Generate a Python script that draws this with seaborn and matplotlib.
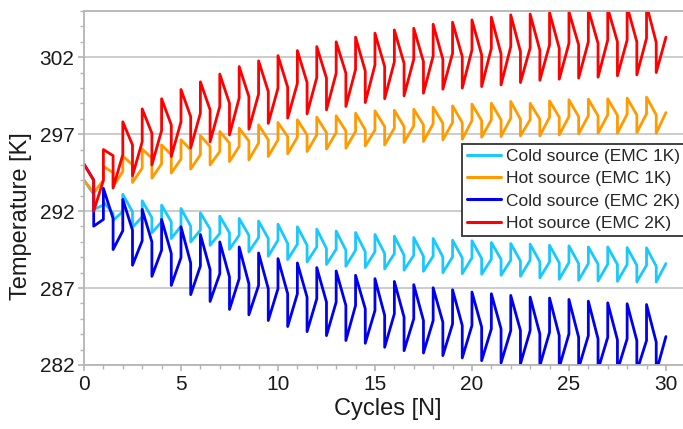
import matplotlib
matplotlib.use("Agg")
import matplotlib.pyplot as plt
import seaborn as sns
import pandas as pd
from matplotlib.ticker import MultipleLocator

# ---- data ----
# Each cycle n: value just before the jump at x=n (pre), just after it (post),
# value just before the jump at x=n+0.5 (mid) and just after it (low).
labels = ["Cold source (EMC 1K)", "Hot source (EMC 1K)",
          "Cold source (EMC 2K)", "Hot source (EMC 2K)"]
colors = ["#19c8ff", "#ff9a00", "#0000f0", "#ff0000"]

cold1_pre = [294.0, 292.4, 291.96, 291.63, 291.3, 291.02, 290.76, 290.55, 290.43, 290.28,
             290.11, 289.85, 289.67, 289.52, 289.46, 289.35, 289.24, 289.13, 289.07, 289.02,
             288.96, 288.87, 288.81, 288.81, 288.7, 288.66, 288.59, 288.55, 288.53, 288.48, 288.59]
cold1_post = [294.0, 292.6, 293.09, 292.67, 292.39, 292.17, 291.89, 291.67, 291.52, 291.35,
              291.15, 290.98, 290.83, 290.7, 290.61, 290.48, 290.37, 290.28, 290.22, 290.11,
              290.07, 289.96, 289.89, 289.85, 289.78, 289.74, 289.67, 289.67, 289.63, 289.61]
cold1_mid = [293.1, 291.85, 291.96, 291.57, 291.3, 291.02, 290.83, 290.59, 290.43, 290.22,
             289.89, 289.78, 289.57, 289.46, 289.35, 289.24, 289.13, 289.07, 289.02, 288.96,
             288.92, 288.87, 288.76, 288.7, 288.64, 288.59, 288.55, 288.53, 288.48, 288.42]
cold1_low = [292.1, 291.4, 290.94, 290.59, 290.22, 290.0, 289.78, 289.52, 289.35, 289.07,
             288.85, 288.7, 288.53, 288.42, 288.33, 288.24, 288.16, 288.09, 288.0, 287.94,
             287.9, 287.83, 287.77, 287.66, 287.57, 287.5, 287.46, 287.44, 287.4, 287.4]

hot1_pre = [294.0, 294.0, 294.57, 294.79, 295.07, 295.38, 295.66, 295.87, 296.2, 296.42,
            296.63, 296.8, 296.95, 297.1, 297.17, 297.28, 297.39, 297.54, 297.67, 297.75,
            297.88, 297.93, 298.04, 297.93, 298.1, 298.14, 298.19, 298.25, 298.3, 298.32, 298.4]
hot1_post = [294.0, 294.9, 295.59, 296.03, 296.3, 296.63, 296.9, 297.17, 297.39, 297.6,
             297.75, 297.93, 298.1, 298.19, 298.36, 298.51, 298.55, 298.62, 298.75, 298.84,
             298.95, 299.01, 299.12, 299.0, 299.16, 299.23, 299.27, 299.29, 299.34, 299.4]
hot1_mid = [293.2, 294.5, 295.0, 295.44, 295.66, 295.98, 296.2, 296.42, 296.55, 296.63,
            296.84, 296.95, 297.1, 297.21, 297.28, 297.49, 297.49, 297.6, 297.71, 297.75,
            297.88, 297.93, 297.97, 297.97, 298.1, 298.14, 298.19, 298.23, 298.25, 298.25]
hot1_low = [293.2, 293.6, 293.86, 294.14, 294.47, 294.73, 295.0, 295.22, 295.33, 295.55,
            295.72, 295.87, 296.03, 296.09, 296.24, 296.3, 296.46, 296.52, 296.63, 296.67,
            296.8, 296.84, 296.89, 296.89, 296.95, 297.02, 297.06, 297.06, 297.1, 297.06]

cold2_pre = [295.05, 291.46, 290.72, 290.07, 289.46, 288.98, 288.43, 287.93, 287.61, 287.17,
             286.96, 286.63, 286.3, 286.09, 285.87, 285.54, 285.33, 285.0, 284.89, 284.67,
             284.57, 284.35, 284.24, 284.24, 284.13, 284.02, 283.91, 283.8, 283.7, 283.59, 283.85]
cold2_post = [295.05, 293.48, 292.76, 292.11, 291.46, 290.98, 290.48, 290.0, 289.67, 289.28,
              288.91, 288.63, 288.33, 288.11, 287.83, 287.61, 287.43, 287.22, 287.02, 286.89,
              286.74, 286.63, 286.52, 286.41, 286.35, 286.26, 286.15, 286.04, 285.98, 285.93]
cold2_mid = [294.02, 291.52, 290.76, 290.0, 289.24, 288.63, 288.2, 287.72, 287.28, 286.96,
             286.63, 286.41, 286.09, 285.87, 285.65, 285.22, 285.11, 284.89, 284.78, 284.57,
             284.46, 284.35, 284.24, 284.02, 283.91, 283.8, 283.7, 283.63, 283.59, 283.48]
cold2_low = [291.02, 289.5, 288.48, 287.76, 287.17, 286.57, 286.13, 285.61, 285.26, 284.89,
             284.5, 284.17, 283.91, 283.59, 283.41, 283.15, 282.93, 282.78, 282.61, 282.46,
             282.28, 282.13, 282.07, 281.95, 281.85, 281.8, 281.7, 281.65, 281.6, 281.55]

hot2_pre = [295.05, 294.0, 295.66, 296.5, 297.23, 297.8, 298.36, 298.8, 299.35, 299.6,
            299.99, 300.3, 300.68, 300.96, 301.2, 301.5, 301.7, 301.87, 302.08, 302.26,
            302.47, 302.58, 302.69, 302.6, 302.8, 302.9, 303.0, 303.12, 303.12, 303.23, 303.3]
hot2_post = [295.05, 296.0, 297.8, 298.64, 299.3, 299.9, 300.4, 300.9, 301.39, 301.76,
             302.1, 302.43, 302.69, 303.0, 303.3, 303.56, 303.77, 303.88, 304.14, 304.27,
             304.42, 304.6, 304.75, 304.8, 304.9, 304.96, 305.1, 305.18, 305.3, 305.4]
hot2_mid = [294.0, 295.6, 296.3, 297.06, 297.6, 298.14, 298.58, 299.0, 299.44, 299.77,
            300.05, 300.35, 300.64, 300.96, 301.1, 301.39, 301.6, 301.71, 301.87, 302.04,
            302.15, 302.21, 302.36, 302.45, 302.58, 302.8, 302.9, 303.0, 303.0, 302.95]
hot2_low = [292.0, 293.5, 294.3, 295.0, 295.55, 296.1, 296.5, 296.95, 297.32, 297.7,
            298.04, 298.32, 298.58, 298.8, 299.05, 299.3, 299.49, 299.66, 299.92, 299.99,
            300.09, 300.2, 300.35, 300.5, 300.57, 300.64, 300.7, 300.79, 300.85, 301.0]

series = [
    (cold1_pre, cold1_post, cold1_mid, cold1_low),
    (hot1_pre, hot1_post, hot1_mid, hot1_low),
    (cold2_pre, cold2_post, cold2_mid, cold2_low),
    (hot2_pre, hot2_post, hot2_mid, hot2_low),
]


def build_path(pre, post, mid, low):
    xs, ys = [], []
    for n in range(len(post)):
        xs += [n, n, n + 0.5, n + 0.5]
        ys += [pre[n], post[n], mid[n], low[n]]
    xs.append(len(post))
    ys.append(pre[len(post)])
    return xs, ys


sns.set_theme(style="white")
plt.rcParams["font.family"] = ["Liberation Sans", "DejaVu Sans"]

fig = plt.figure(figsize=(6.83, 4.29), dpi=100)
ax = fig.add_axes([84 / 683, 1 - 365 / 429, 1 - 84 / 683, 354 / 429])

for (pre, post, mid, low), lab, col in zip(series, labels, colors):
    xs, ys = build_path(pre, post, mid, low)
    df = pd.DataFrame({"Cycles": xs, "T": ys})
    sns.lineplot(data=df, x="Cycles", y="T", sort=False, estimator=None,
                 color=col, lw=2.0, label=lab, ax=ax)

ax.set_xlim(0, 30.88)
ax.set_ylim(282, 305)
ax.set_xticks([0, 5, 10, 15, 20, 25, 30])
ax.set_yticks([282, 287, 292, 297, 302])
ax.xaxis.set_minor_locator(MultipleLocator(1))
ax.yaxis.set_minor_locator(MultipleLocator(1))
ax.grid(axis="y", which="major", color="#c8c8c8", lw=1.3)
ax.grid(axis="x", visible=False)
ax.set_axisbelow(True)

for side in ["left", "bottom", "top"]:
    ax.spines[side].set_visible(True)
    ax.spines[side].set_color("#b4b4b4")
    ax.spines[side].set_linewidth(1.3)
ax.spines["right"].set_visible(False)

ax.tick_params(axis="both", which="major", direction="out", length=4, width=1.2,
               color="#b4b4b4", labelsize=15, labelcolor="#1a1a1a", pad=3,
               bottom=True, left=True)
ax.tick_params(axis="both", which="minor", direction="out", length=3, width=1.0,
               color="#b4b4b4", bottom=True, left=True)

ax.set_xlabel("Cycles [N]", fontsize=17, color="#1a1a1a")
ax.set_ylabel("Temperature [K]", fontsize=17, color="#1a1a1a")
ax.xaxis.set_label_coords(0.507, -0.093)
ax.yaxis.set_label_coords(-0.087, 0.421)

leg = ax.legend(loc="upper left", bbox_to_anchor=((462 - 84) / 599, (365 - 144) / 354),
                borderaxespad=0, fontsize=12.5, frameon=True, fancybox=False,
                framealpha=1, edgecolor="#333333", handlelength=1.95,
                handletextpad=0.3, labelspacing=0.4, borderpad=0.3)
leg.get_frame().set_linewidth(1.3)
for line in leg.get_lines():
    line.set_linewidth(2.2)

fig.savefig("out.png", dpi=100)
